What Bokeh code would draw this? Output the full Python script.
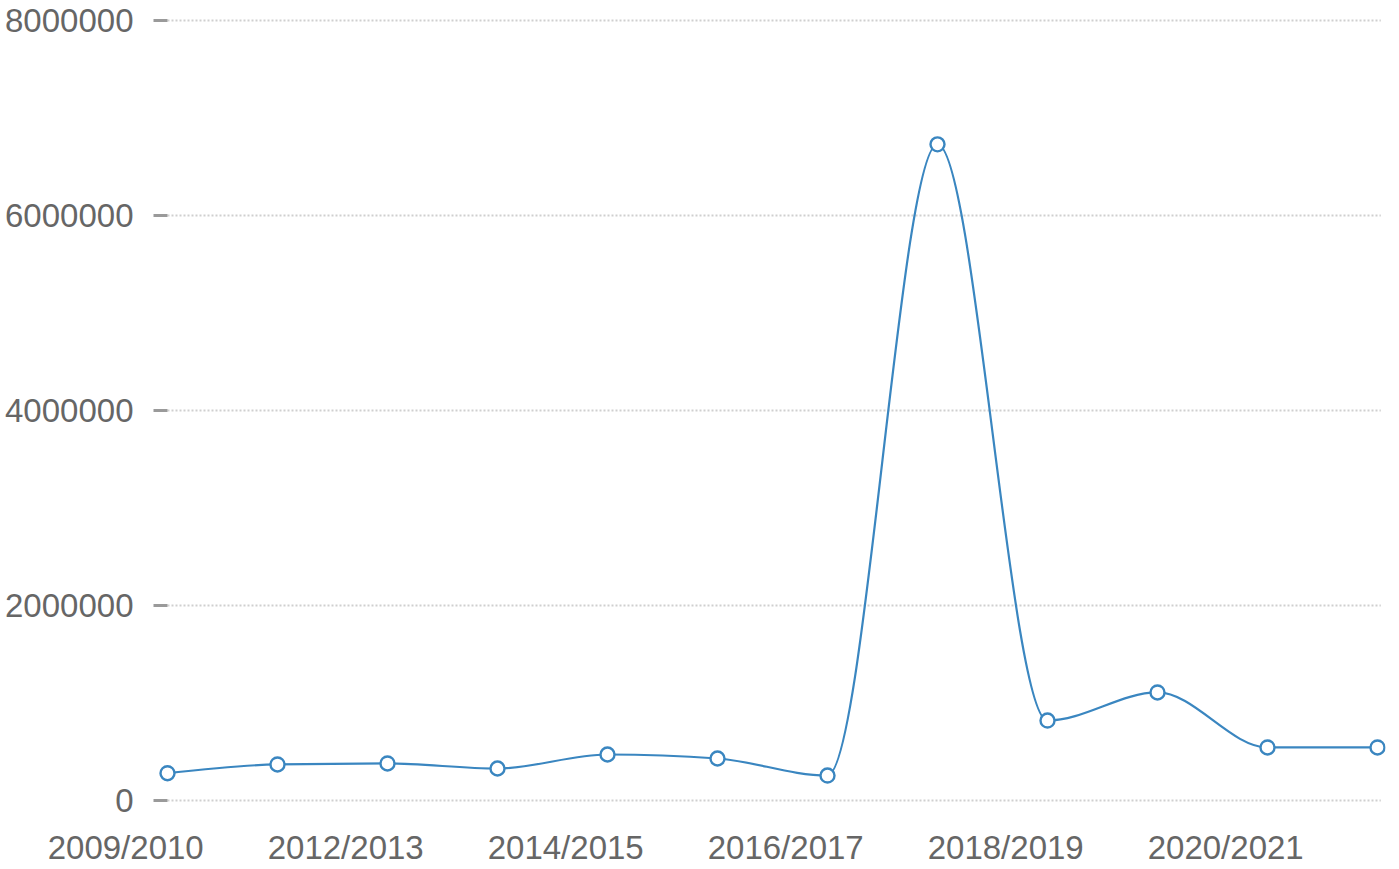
import numpy as np
from bokeh.plotting import figure
from bokeh.models import Range1d, FixedTicker, PrintfTickFormatter, ColumnDataSource
from bokeh.embed import file_html
from bokeh.resources import INLINE

# ---- data ----
seasons = ["2009/2010", "2011/2012", "2012/2013", "2013/2014", "2014/2015", "2015/2016",
           "2016/2017", "2017/2018", "2018/2019", "2019/2020", "2020/2021", "2021/2022"]
values = [280000, 370000, 380000, 328000, 472000, 431000,
          256000, 6730000, 820000, 1108000, 544000, 544000]
y_ticks = [0, 2000000, 4000000, 6000000, 8000000]
label_every = 2

BLUE = "#3a86c0"
FONT = "Liberation Sans"
TEXT = "#666666"

x = np.arange(len(values), dtype=float)
y = np.array(values, dtype=float)

# ---- monotone-X cubic (d3.curveMonotoneX) tangents ----
n = len(x)
t = np.zeros(n)
for i in range(1, n - 1):
    h0 = x[i] - x[i - 1]
    h1 = x[i + 1] - x[i]
    s0 = (y[i] - y[i - 1]) / h0
    s1 = (y[i + 1] - y[i]) / h1
    pp = (s0 * h1 + s1 * h0) / (h0 + h1)
    t[i] = (np.sign(s0) + np.sign(s1)) * min(abs(s0), abs(s1), 0.5 * abs(pp))
h = x[1] - x[0]
t[0] = (3 * (y[1] - y[0]) / h - t[1]) / 2
h = x[-1] - x[-2]
t[-1] = (3 * (y[-1] - y[-2]) / h - t[-2]) / 2

dx = x[1:] - x[:-1]
bez = ColumnDataSource(dict(
    x0=x[:-1], y0=y[:-1], x1=x[1:], y1=y[1:],
    cx0=x[:-1] + dx / 3, cy0=y[:-1] + dx / 3 * t[:-1],
    cx1=x[1:] - dx / 3, cy1=y[1:] - dx / 3 * t[1:],
))

# ---- layout constants (pixels) ----
W, H = 1392, 868
LEFT, RIGHT = 122, 7          # frame starts left of the first label
PPX = 110.0                   # px per category step
FIRST_PX = 167                # screen x of first category
X0 = -(FIRST_PX - LEFT) / PPX
X1 = X0 + (W - LEFT - RIGHT) / PPX
PAD = 8
Y_TOP = y_ticks[-1]
ypad = PAD * Y_TOP / 780.0

p = figure(width=W, height=H, output_backend="svg", toolbar_location=None,
           x_range=Range1d(X0, X1), y_range=Range1d(-ypad, Y_TOP + ypad),
           min_border_left=LEFT, min_border_right=RIGHT, min_border_top=12, min_border_bottom=60)
p.outline_line_color = None
p.background_fill_color = "white"
p.border_fill_color = "white"

# horizontal dotted grid from first to last category
p.segment(x0=[x[0]] * len(y_ticks), x1=[x[-1] + 0.03] * len(y_ticks), y0=y_ticks, y1=y_ticks,
          line_color="#cfcfcf", line_dash="2 2", line_width=2)

p.bezier(x0="x0", y0="y0", x1="x1", y1="y1", cx0="cx0", cy0="cy0", cx1="cx1", cy1="cy1",
         source=bez, line_color=BLUE, line_width=2.2)
p.scatter(x, y, size=14, fill_color="white", line_color=BLUE, line_width=2.4)

# y axis: ticks end where the grid starts, labels reach into the frame margin
p.yaxis.ticker = FixedTicker(ticks=y_ticks)
p.yaxis.formatter = PrintfTickFormatter(format="%d")
p.yaxis.axis_line_color = None
p.yaxis.major_tick_out = -(153 - LEFT)
p.yaxis.major_tick_in = FIRST_PX - LEFT
p.yaxis.major_tick_line_color = "#9a9a9a"
p.yaxis.major_tick_line_width = 3
p.yaxis.minor_tick_line_color = None
p.yaxis.major_label_standoff = LEFT - 133
p.yaxis.major_label_text_font = FONT
p.yaxis.major_label_text_font_size = "33px"
p.yaxis.major_label_text_color = TEXT

# x axis: every other season, label centred a little left of its point
lab_idx = list(range(0, len(seasons), label_every))
tick_pos = [i - 0.38 for i in lab_idx]
p.xaxis.ticker = FixedTicker(ticks=tick_pos)
p.xaxis.major_label_overrides = {tp: seasons[i] for tp, i in zip(tick_pos, lab_idx)}
p.xaxis.axis_line_color = None
p.xaxis.major_tick_line_color = None
p.xaxis.minor_tick_line_color = None
p.xaxis.major_tick_in = 0
p.xaxis.major_tick_out = 0
p.xaxis.major_label_standoff = 20
p.xaxis.major_label_text_font = FONT
p.xaxis.major_label_text_font_size = "33px"
p.xaxis.major_label_text_color = TEXT

p.xgrid.grid_line_color = None
p.ygrid.grid_line_color = None

open("out.html", "w").write(file_html(p, INLINE))
